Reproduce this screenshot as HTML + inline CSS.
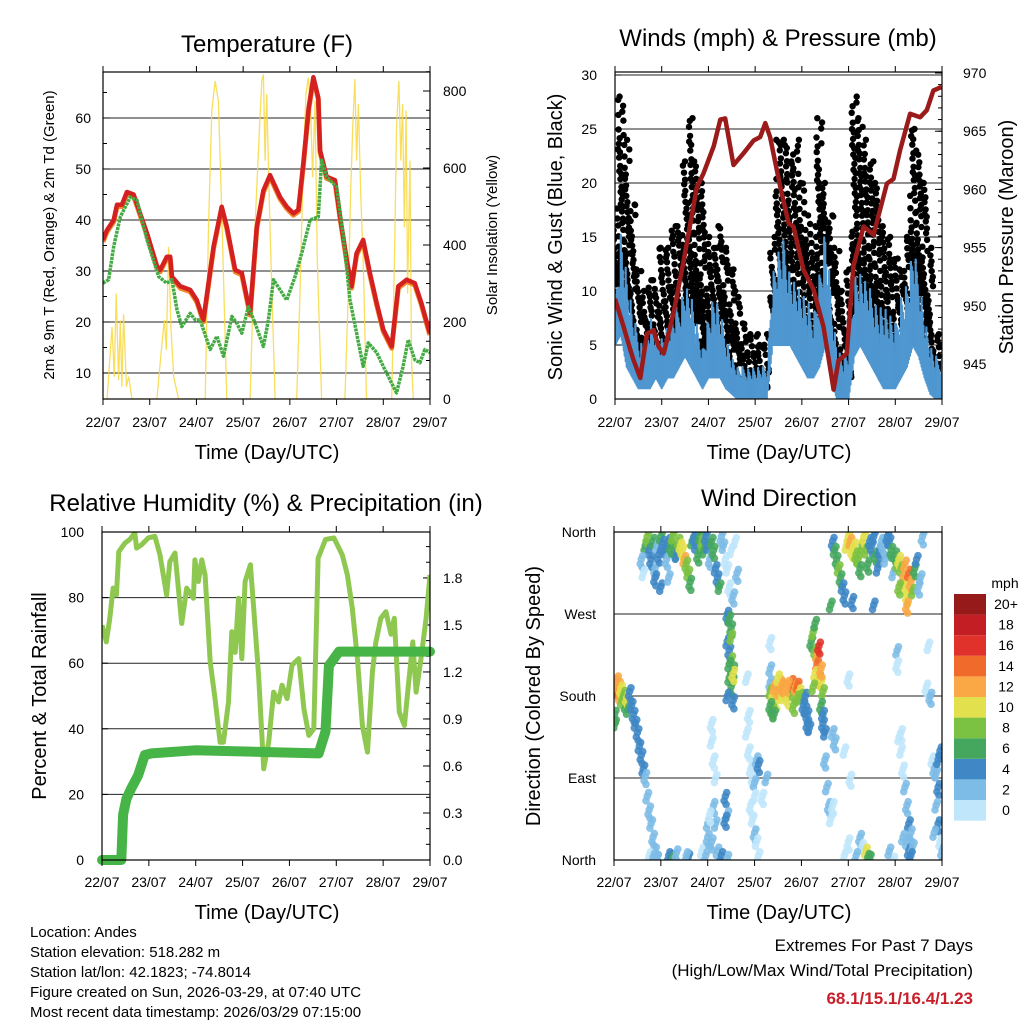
<!DOCTYPE html>
<html><head><meta charset="utf-8"><style>
html,body{margin:0;padding:0;background:#fff}
svg{display:block;font-family:"Liberation Sans",Arial,sans-serif}
</style></head><body>
<svg id="chart" width="1024" height="1024" viewBox="0 0 1024 1024" xmlns="http://www.w3.org/2000/svg">
<defs>
<clipPath id="c1"><rect x="103" y="72" width="327" height="327"/></clipPath>
<clipPath id="c2"><rect x="615" y="72" width="327" height="327"/></clipPath>
<clipPath id="c3"><rect x="102" y="532" width="328" height="328"/></clipPath>
<clipPath id="c4"><rect x="614" y="532" width="328" height="328"/></clipPath>
</defs>
<g id="p1"></g>
<g id="p2"></g>
<g id="p3"></g>
<g id="p4"></g>
<g font-size="24" text-anchor="middle">
<text x="267" y="52">Temperature (F)</text>
<text x="778" y="46">Winds (mph) &amp; Pressure (mb)</text>
<text x="266" y="511">Relative Humidity (%) &amp; Precipitation (in)</text>
<text x="779" y="506">Wind Direction</text>
</g>
<g font-size="20" text-anchor="middle">
<text x="267" y="459">Time (Day/UTC)</text>
<text x="779" y="459">Time (Day/UTC)</text>
<text x="267" y="919">Time (Day/UTC)</text>
<text x="779" y="919">Time (Day/UTC)</text>
<text transform="translate(54,235) rotate(-90)" font-size="15">2m &amp; 9m T (Red, Orange) &amp; 2m Td (Green)</text>
<text transform="translate(497,235) rotate(-90)" font-size="15">Solar Insolation (Yellow)</text>
<text transform="translate(562,237) rotate(-90)">Sonic Wind &amp; Gust (Blue, Black)</text>
<text transform="translate(1013,237) rotate(-90)">Station Pressure (Maroon)</text>
<text transform="translate(46,696) rotate(-90)">Percent &amp; Total Rainfall</text>
<text transform="translate(540,696) rotate(-90)">Direction (Colored By Speed)</text>
</g>
<g font-size="15">
<text x="30" y="937">Location: Andes</text>
<text x="30" y="957">Station elevation: 518.282 m</text>
<text x="30" y="977">Station lat/lon: 42.1823; -74.8014</text>
<text x="30" y="997">Figure created on Sun, 2026-03-29, at 07:40 UTC</text>
<text x="30" y="1017">Most recent data timestamp: 2026/03/29 07:15:00</text>
</g>
<g text-anchor="end">
<text x="973" y="951" font-size="17">Extremes For Past 7 Days</text>
<text x="973" y="976" font-size="17">(High/Low/Max Wind/Total Precipitation)</text>
<text x="973" y="1004" font-size="17" font-weight="bold" fill="#c8202a">68.1/15.1/16.4/1.23</text>
</g>
</svg>
<script>
// ---------- data ----------
const days = ["22/07","23/07","24/07","25/07","26/07","27/07","28/07","29/07"];
const tempHours = [0,2,5.5,7.2,9.7,12.3,15.7,22.6,27.7,29.4,32.8,34.5,35.4,39.7,44.8,48.2,51.6,56.8,61,63.6,67.9,71.3,75.6,79,82.4,85.8,91,94.4,97.8,100.4,102.9,105.7,108.1,110.6,111.5,114.9,119.2,121.8,125.2,127.7,130.3,133.7,137.1,140.6,144,148.3,151.7,156,160.2,163.6,167.9];
const tempValues = [36.1,38,40,43,43,45.5,45,37.4,31,30.2,32.8,32.8,28.9,27,26.3,24.3,20.4,34.8,42.6,38.7,30.2,29.6,21.7,38.7,45.8,48.8,44.5,42.6,41.3,42,51,62,68,64,53.7,48.5,47.8,40.6,32.2,27,33.5,36.1,29.6,23.7,18.5,15.2,27,28.3,27.6,23.7,17.8];
const dewHours = [0,2.9,5.5,8.9,14,17.4,22.6,28.6,32.8,35.4,38,40.5,44.8,47.4,49.9,55.1,58.5,61.9,66.2,68.7,71.3,74.7,78.1,82.4,85,87.6,91,94.4,98.7,102.1,106.4,110.6,112.3,114.9,120,123.5,126.9,130.3,133.7,136.3,140.6,144,147.4,150.8,154.2,156.8,160.2,162.8,165.4,167.9];
const dewValues = [27.6,28.3,34.8,40.6,44.5,43.9,36.1,28.9,27.6,28.3,22.4,19.1,21.7,20.4,20.4,14.6,17.2,13.3,21.1,19.8,17.8,23,19.8,15.2,20.4,28.3,26.3,24.3,28.9,33.5,40,40.6,51.7,48.5,46.5,36.7,24.3,17.8,11.3,15.9,14,11.3,8.7,6.1,11.3,16.5,12.6,12,14.6,14];
const solarHours = [2.1,4.6,5.8,6.8,8,8.9,9.7,10.6,12,13.2,14.9,27.7,30.3,31.5,32.5,33.7,34.9,36.3,38.8,52.5,54.2,55.9,57.6,59.3,61,63.6,75.6,78.1,80.4,81.6,82.4,83.3,84.1,85.8,88.4,99.5,101.2,102.9,104.3,105.5,106.7,107.7,108.9,110.1,112.3,124.3,126,127.2,128.3,129.4,130.3,131.2,132.4,133.7,135.4,148.3,150,150.8,152,153,153.9,154.8,155.7,156.5,157.7,158.5,159.4];
const solarValues = [0,187,58,274,49,204,32,220,32,58,0,0,145,205,127,395,187,58,0,0,446,748,826,774,489,0,0,446,705,826,843,619,792,446,0,0,274,619,792,835,749,576,774,360,0,0,274,533,705,831,619,766,533,360,0,0,446,705,826,619,766,446,749,274,619,100,0];
const presHours = [0,4.4,7.9,9.6,13,16.4,19.8,22.4,25,30.1,35.3,42.1,45.5,50.7,54.1,56.6,60.9,66,71.2,74.6,77.2,79.7,84.9,89.2,91.7,96.8,102,107.1,112.3,114.8,119.1,122.5,127.7,132.8,139.7,143.1,146.5,151.6,156.8,160.2,163.6,167.8];
const presValues = [950.6,948.2,946.2,945.3,943.8,947.6,947.9,946.5,945.9,949.4,953.9,960.2,961.4,963.7,966,966.1,962.1,963.1,964.2,964.5,965.7,964.5,960.2,957.1,956.8,953.1,951.4,948.2,942.8,945.3,945.9,953.4,956.8,956.1,960.5,960.9,963.4,966.5,966.2,966.8,968.5,968.8];
// 3-hourly envelopes (index i -> hour 3*i)
const windHigh = [9,16,12,8,6,5,8,6,6,7,8,9,11,10,7,5,8,10,8,6,4,3,3,3,3,3,3,12,14,15,12,11,10,9,8,12,16,10,5,4,5,12,12,11,10,9,9,8,7,10,11,14,12,8,5,4,4];
const windLow = [5,6,3,2,1,1,1,2,1,2,2,3,4,3,2,1,2,2,2,1,0.5,0,0,0,0,0,0,5,5,5,5,4,3,2,2,3,5,2,0,0,0,4,5,4,3,2,1,1,1,2,3,5,4,2,0.5,0,0];
const gustHigh = [18,28,24,18,12,10,11,11,14,14,16,16,22,26,22,20,15,14,16,14,12,10,7,6,6,5,6,15,24,24,22,24,20,17,16,26,20,17,14,10,12,28,26,24,22,20,16,15,13,12,15,25,23,20,14,6,5];
const gustLow = [6,10,10,6,4,3,4,4,4,5,6,6,8,8,7,4,5,6,6,4,3,2,1,1,1,1,1,8,8,8,8,7,6,5,4,8,8,5,2,1,2,8,8,7,6,5,4,4,3,5,6,8,8,5,2,1,1];
const rhHours = [0,2.2,4,5.7,7.4,8.6,11.7,14.2,16.8,17.7,20.3,23.7,27.1,29.7,33.1,34.8,37.4,40.8,43.4,46.8,47.6,49.4,51.1,52.8,55.4,57.9,60.5,62.2,64.8,66.5,68.2,69.9,71.6,73.3,76,77.7,80.2,82.8,85.4,87.9,90.5,92.2,94.8,97.3,100.8,103.4,105.9,108.5,110.7,114.5,118.8,123.1,125.7,128.2,130.8,133.4,136,138.5,140.3,142.8,145.4,148,149.7,152.3,154.9,156.6,159.2,160.9,163.4,166,168];
const rhValues = [71.6,66.5,73.7,82.9,80.8,94,96.6,97.7,99.7,95.1,96.1,98.2,98.7,93,80.8,91,93.6,72.1,82.9,79.8,91.5,84.9,91.5,86.9,60.4,49.2,35.9,35.9,48.2,69.6,63.3,79.8,61.4,84.9,90,76.7,56.3,27.8,35.9,51.2,48.2,53.3,49.2,59.4,61.4,46.1,38,40,92,97.7,98.2,93,86.9,76.7,61.4,41,32.9,57.3,66.5,73.7,75.7,68.8,73.7,45.1,41,51.2,66.5,51.2,61.4,73.7,86.9];
const precipHours = [0,9.9,10.8,12.5,15.1,18.5,21.9,25.4,47.6,111,114.5,116.2,121.4,168];
const precipValues = [0,0,0.29,0.39,0.46,0.54,0.67,0.68,0.70,0.68,0.82,1.24,1.33,1.33];
// wind direction samples: [hour, degrees, mph]
const dirSamples = [
[0.5,195,14],[1,190,16],[1.5,198,12],[2,185,15],[2.5,192,13],[3,180,12],[3.5,188,10],[4,175,9],[5,182,8],[6,170,7],[6.5,178,11],[7,165,6],[0.3,160,7],[0.5,150,6],[8,185,5],[9,170,5],[10,160,4],[11,150,5],[12,140,4],[13,125,4],[14,115,5],[15,100,4],[16,92,3],[17,70,2],[18,55,2],[19,40,3],[20,25,2],[21,10,2],[18,5,1],[20,3,3],[22,2,2],
[16,345,7],[17,355,8],[18,340,5],[19,330,4],[20,350,6],[21,320,2],[22,345,3],[23,335,4],[24,355,6],[25,348,5],[26,340,4],[27,330,3],[28,350,5],[29,345,7],[30,355,8],[31,340,6],[32,335,5],[33,350,9],[34,345,10],[35,340,11],[36,330,12],[37,325,9],[38,315,8],[39,305,7],[40,350,6],[41,355,5],[42,345,4],[43,335,6],[44,355,7],[45,350,8],[46,340,6],[47,355,5],[48,345,4],[49,330,3],[50,350,6],[51,340,7],[52,320,4],[53,310,5],[54,300,6],[55,355,2],[56,345,2],[57,330,1],[58,320,1],[59,300,1],[60,340,1],[61,290,2],[62,350,1],[63,315,2],[24,300,4],[21,310,5],[28,310,3],[14,330,2],[15,315,1],
[58,270,5],[59,265,6],[60,255,7],[58,240,4],[59,230,5],[60,220,8],[61,210,6],[59,200,7],[60,190,6],[58,180,4],[61,175,5],[60,245,9],[61,205,10],[59,215,6],
[50,150,1],[50,130,1],[51,110,1],[52,90,1],[51,60,2],[52,40,2],[50,20,3],[53,10,3],[55,5,4],[58,2,3],[57,70,4],[58,50,3],[57,45,4],[68,200,1],[69,160,1],[68,140,1],[69,120,1],[70,100,1],[71,90,1],[72,85,2],[70,60,1],[71,45,1],[72,30,2],[73,20,1],[74,5,1],[73,110,3],[74,105,4],[72,70,1],[76,70,1],[78,90,2],[80,240,1],[80,210,2],[80,195,2],
[80,185,9],[81,180,10],[82,190,12],[83,175,11],[84,185,13],[85,195,12],[86,180,10],[87,190,14],[88,182,11],[89,178,10],[90,188,12],[91,195,14],[92,183,9],[93,190,13],[94,192,15],[95,185,10],[96,180,8],[81,165,8],[82,160,7],[80,170,6],[84,200,10],[86,192,12],[89,193,13],[92,170,9],[94,178,8],[97,170,5],[98,165,4],[99,150,4],[100,145,5],[99,160,5],[98,180,4],
[101,240,7],[102,250,8],[103,230,9],[104,225,12],[105,235,17],[104,215,15],[105,200,15],[106,195,11],[103,205,10],[102,190,9],[106,210,13],[107,185,8],[106,170,6],[107,160,5],[107,150,4],[108,140,4],[108,110,3],[109,80,2],[110,60,2],[103,260,7],
[112,350,5],[113,340,7],[114,330,6],[115,320,8],[116,310,6],[117,300,5],[118,290,4],[119,345,10],[120,355,11],[121,350,12],[122,340,10],[123,345,11],[124,335,9],[125,330,8],[126,320,7],[127,345,9],[128,355,10],[129,340,8],[130,325,7],[131,350,4],[132,345,5],[133,355,4],[134,335,6],[135,320,5],[136,340,4],[137,350,3],[138,345,3],[139,330,2],[140,355,5],[141,350,4],[142,340,6],[143,315,3],[144,335,6],[145,325,8],[146,330,10],[147,320,9],[148,310,12],[149,300,11],[150,290,10],[151,315,14],[152,305,13],[153,295,8],[154,320,6],[155,330,4],[156,300,3],[157,310,2],[158,355,2],[111,280,6],[122,285,5],[133,280,4],[146,300,9],[149,325,13],[150,280,12],
[145,230,2],[145,215,1],[146,135,1],[147,140,0],[147,120,1],[148,100,1],[149,80,2],[150,60,2],[151,40,4],[152,30,3],[150,20,3],[151,10,4],[153,15,3],[152,5,5],[148,25,2],[143,0,1],[141,10,2],[160,190,1],[161,235,1],[162,180,2],[163,110,1],[164,100,2],[165,95,3],[166,80,4],[165,60,3],[166,40,4],[167,20,1],[168,10,2],[164,30,2],[167,120,4],[166,110,5],[126,25,2],[127,15,1],[124,5,3],[129,10,10],[130,3,6],[131,2,7],[120,20,1],[118,5,1],[112,60,1],[111,45,1],[120,200,1],[118,120,1],[121,90,1],[112,140,2],[113,130,3],
[28,5,4],[29,3,5],[30,1,6],[32,8,2],[38,3,4],[37,5,3],[22,2,2],[45,10,1],[47,5,2],[48,25,2],[48,40,3],[49,50,1]
];
const speedLabels = ["0","2","4","6","8","10","12","14","16","18","20+"];
const speedColors = ["#bfe6fa","#7dbce6","#3f88c5","#45a75e","#7cc242","#e2e04c","#f9a845","#f06a2c","#e0322a","#c21e24","#961a1a"];
const tempTicks = [10,20,30,40,50,60];
const solarTicks = [0,200,400,600,800];
const windTicks = [0,5,10,15,20,25,30];
const presTicks = [945,950,955,960,965,970];
const rhTicks = [0,20,40,60,80,100];
const precipTicks = ["0.0","0.3","0.6","0.9","1.2","1.5","1.8"];
const dirTicks = ["North","East","South","West","North"];

// ---------- scales ----------
const x1 = h => 103 + h/168*327, yT = v => 373 - (v-10)*5.1, yS = s => 399 - s*0.385;
const x2 = h => 615 + h/168*327, yW = v => 399 - v*10.8, yP = p => 364 - (p-945)*11.64;
const x3 = h => 102 + h/168*328, yRH = v => 860 - v*3.28, yPr = i => 860 - i*156.7;
const x4 = h => 614 + h/168*328, yD = d => 860 - d/360*328;

const NS = "http://www.w3.org/2000/svg";
function mk(tag, attrs, parent){ const e = document.createElementNS(NS, tag); for (const k in attrs) e.setAttribute(k, attrs[k]); parent.appendChild(e); return e; }
function pts(xs, ys, fx, fy){ return xs.map((h,i)=>fx(h).toFixed(1)+","+fy(ys[i]).toFixed(1)).join(" "); }
function interp(arr, h){ const f = h/3; const i = Math.min(arr.length-2, Math.floor(f)); const t = f-i; return arr[i]*(1-t)+arr[i+1]*t; }

function frame(g, x0, y0, w, h){
  const r = mk("rect",{x:x0,y:y0,width:w,height:h,fill:"none",stroke:"#000","stroke-width":1.2},g);
  
  
}
function hgrid(g, y, x0, x1v, color){
  const l = mk("line",{x1:x0,x2:x1v,y1:y,y2:y,stroke:color||"#000","stroke-width":1},g);
  
  
}
function xTicks(g, fx, yTop, yBot, yLab){
  for (let d=0; d<8; d++){
    const x = fx(d*24);
    const t1 = mk("line",{x1:x,x2:x,y1:yTop-6,y2:yTop,stroke:"#000"},g);
    
    
    const t2 = mk("line",{x1:x,x2:x,y1:yBot,y2:yBot+6,stroke:"#000"},g);
    
    
    const t = mk("text",{x:x,y:yLab,"font-size":14,"text-anchor":"middle"},g);
    t.textContent = days[d];
    
    
  }
}
function yLabel(g, x, y, txt, anchor){
  const t = mk("text",{x:x,y:y+5,"font-size":14,"text-anchor":anchor},g);
  t.textContent = txt;
  
  
  return t;
}
function tick(g, xa, ya, xb, yb){
  const l = mk("line",{x1:xa,y1:ya,x2:xb,y2:yb,stroke:"#000"},g);
  
  
}

// ---------- panel 1 ----------
{
  const g = document.getElementById("p1");
  tempTicks.forEach(v=>{ hgrid(g, yT(v), 103, 430, "#222"); yLabel(g, 91, yT(v), String(v), "end"); tick(g,103,yT(v),110,yT(v)); });
  for (let v=10; v<70; v+=5) tick(g,103,yT(v),107,yT(v));
  solarTicks.forEach(s=>{ yLabel(g, 443, yS(s), String(s), "start"); tick(g,430,yS(s),423,yS(s)); });
  for (let s=0; s<=850; s+=50) tick(g,430,yS(s),426,yS(s));
  const c = mk("g",{"clip-path":"url(#c1)"},g);
  const solar = mk("polyline",{points:pts(solarHours,solarValues,x1,yS),fill:"none",stroke:"#f8d840","stroke-width":1.3,"stroke-opacity":0.85},c);
  
  
  const orange = mk("polyline",{points:pts(tempHours,tempValues,x1,v=>yT(v)+1.8),fill:"none",stroke:"#f08a28","stroke-width":5,"stroke-linejoin":"round"},c);
  
  
  const red = mk("polyline",{points:pts(tempHours,tempValues,x1,yT),fill:"none",stroke:"#d42020","stroke-width":4.5,"stroke-linejoin":"round"},c);
  
  
  const green = mk("polyline",{points:pts(dewHours,dewValues,x1,yT),fill:"none",stroke:"#44aa44","stroke-width":3.5,"stroke-dasharray":"3 0.8","stroke-linejoin":"round"},c);
  
  
  frame(g,103,72,327,327);
  xTicks(g, x1, 72, 399, 427);
}

// ---------- panel 2 ----------
{
  const g = document.getElementById("p2");
  windTicks.forEach(v=>{ hgrid(g, yW(v), 615, 942, "#222"); yLabel(g, 597, yW(v), String(v), "end"); tick(g,615,yW(v),621,yW(v)); });
  presTicks.forEach(p=>{ yLabel(g, 963, yP(p), String(p), "start"); tick(g,942,yP(p),935,yP(p)); });
  for (let p=943; p<=970; p++) tick(g,942,yP(p),938,yP(p));
  const c = mk("g",{"clip-path":"url(#c2)"},g);
  const dots = mk("g",{fill:"#000"},c);
  
  
  gustHigh.forEach((gh,i)=>{
    const gl = gustLow[i];
    const n = Math.max(4, Math.round((gh-gl)*2.6));
    for (let k=0;k<n;k++){
      const f = ((k*0.618 + i*0.37) % 1);
      const v = k===0 ? gh : gl + (gh-gl)*Math.pow(f,1.4);
      const h = i*3 + (((k*0.7548 + i*0.29) % 1) - 0.5)*3;
      const d = mk("circle",{cx:x2(h).toFixed(1),cy:yW(v).toFixed(1),r:3.2},dots);
      
      
    }
  });
  const windG = mk("g",{stroke:"#4f97d0","stroke-width":2.2,"stroke-linecap":"round"},c);
  
  
  for (let h=0; h<=168; h+=0.5){
    const hi = interp(windHigh,h), lo = interp(windLow,h);
    const f = (h*1.618) % 1;
    const top = lo + (hi-lo)*(0.45+0.55*f);
    const s = mk("line",{x1:x2(h).toFixed(1),x2:x2(h).toFixed(1),y1:yW(lo).toFixed(1),y2:yW(top).toFixed(1)},windG);
    
    
  }
  const pres = mk("polyline",{points:pts(presHours,presValues,x2,yP),fill:"none",stroke:"#9b1b1b","stroke-width":4.5,"stroke-linejoin":"round"},c);
  
  
  frame(g,615,72,327,327);
  xTicks(g, x2, 72, 399, 427);
}

// ---------- panel 3 ----------
{
  const g = document.getElementById("p3");
  rhTicks.forEach(v=>{ hgrid(g, yRH(v), 102, 430, "#222"); yLabel(g, 84, yRH(v), String(v), "end"); tick(g,102,yRH(v),108,yRH(v)); });
  precipTicks.forEach(s=>{ yLabel(g, 443, yPr(parseFloat(s)), s, "start"); tick(g,430,yPr(parseFloat(s)),423,yPr(parseFloat(s))); });
  for (let p=0; p<=2.05; p+=0.1) tick(g,430,yPr(p),426,yPr(p));
  const c = mk("g",{"clip-path":"url(#c3)"},g);
  const rh = mk("polyline",{points:pts(rhHours,rhValues,x3,yRH),fill:"none",stroke:"#8fc850","stroke-width":5,"stroke-linejoin":"round"},c);
  
  
  const pr = mk("polyline",{points:pts(precipHours,precipValues,x3,yPr),fill:"none",stroke:"#46b446","stroke-width":10,"stroke-linejoin":"round","stroke-linecap":"round"},g);
  
  
  frame(g,102,532,328,328);
  xTicks(g, x3, 532, 860, 887);
}

// ---------- panel 4 ----------
{
  const g = document.getElementById("p4");
  dirTicks.forEach((lab,i)=>{ const y = yD(i*90); hgrid(g, y, 614, 942, "#222"); yLabel(g, 596, y, lab, "end"); });
  const c = mk("g",{"clip-path":"url(#c4)"},g);
  const offs = [[0,0],[0.7,4],[-0.6,-5],[0.4,-9]];
  dirSamples.forEach((s,idx)=>{
    const bin = Math.min(10, Math.floor(s[2]/2));
    offs.forEach((o,j)=>{
      if (j===3 && idx%2) return;
      const d = mk("circle",{cx:x4(s[0]+o[0]).toFixed(1),cy:yD(s[1]+o[1]).toFixed(1),r:3.8,fill:speedColors[bin],"fill-opacity":0.88},c);
      
      
    });
  });
  frame(g,614,532,328,328);
  xTicks(g, x4, 532, 860, 887);
  const cb = mk("g",{},g);
  
  
  const t = mk("text",{x:1005,y:588,"font-size":14,"text-anchor":"middle"},cb);
  t.textContent = "mph";
  
  
  speedColors.forEach((col,i)=>{
    const y = 594 + (10-i)*20.6;
    const r = mk("rect",{x:954,y:y,width:32,height:20.6,fill:col},cb);
    
    
    const l = mk("text",{x:1006,y:y+15,"font-size":14,"text-anchor":"middle"},cb);
    l.textContent = speedLabels[i];
    
    
  });
}
</script>
</body></html>
